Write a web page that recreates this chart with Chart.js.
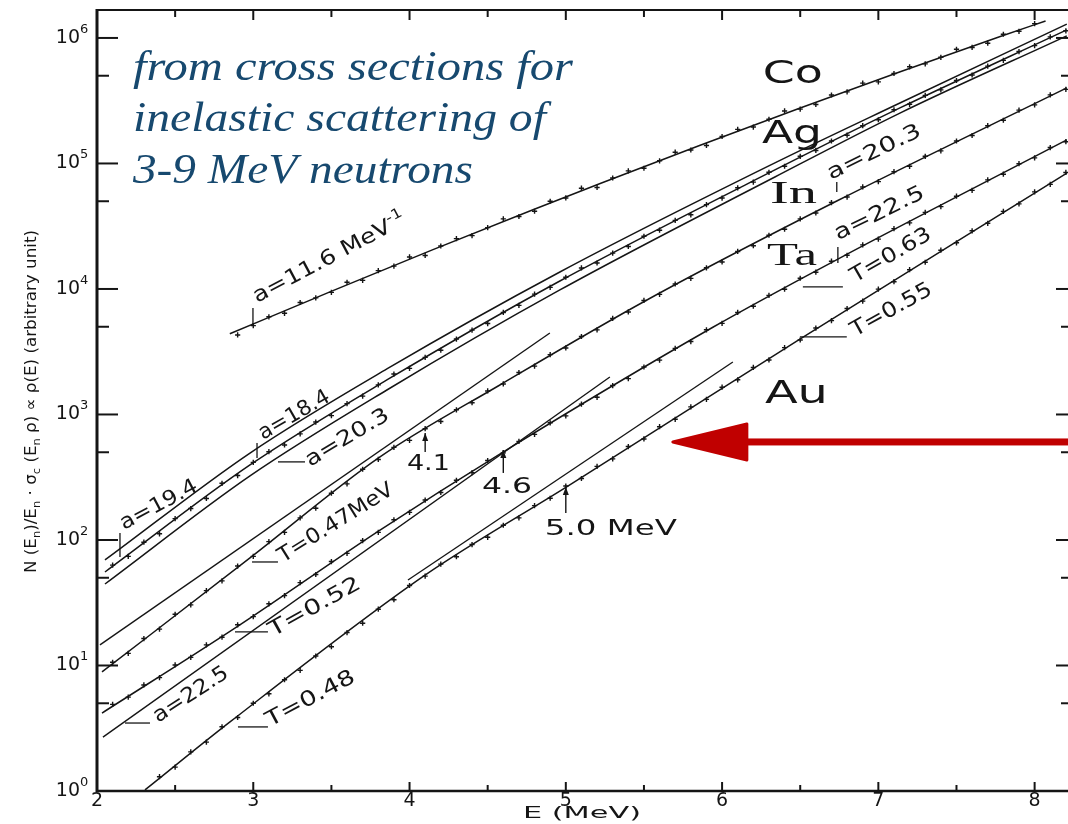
<!DOCTYPE html>
<html>
<head>
<meta charset="utf-8">
<script src="https://cdn.jsdelivr.net/npm/chart.js@4.4.1/dist/chart.umd.min.js"></script>
<style>
  html, body { margin: 0; padding: 0; background: #fff; overflow: hidden; }
  #wrap { position: relative; width: 1068px; height: 824px; overflow: hidden; }
  canvas { display: block; }
</style>
</head>
<body>
<div id="wrap"><canvas id="c" width="1080" height="824"></canvas></div>
<script>
// Axis ranges and ticks
const X_MIN = 2, X_MAX = 8.22;
const Y_MIN = 1, Y_MAX = 1.67e6;
const xMajor = [2, 3, 4, 5, 6, 7, 8];
const xMinor = [2.5, 3.5, 4.5, 5.5, 6.5, 7.5];
const yMajor = [1, 10, 100, 1e3, 1e4, 1e5, 1e6];
const yMinor = [5, 50, 500, 5e3, 5e4, 5e5];

// ---- Co (a = 11.6 MeV^-1) ----
const coE = [2.85, 3.51, 4.15, 4.79, 5.22, 5.86, 6.50, 7.14, 7.78, 8.07];
const coN = [4400, 9700, 20600, 42800, 69300, 139600, 277000, 538000, 1026000, 1365000];
const coDotE = [2.9, 3.0, 3.1, 3.2, 3.3, 3.4, 3.5, 3.6, 3.7, 3.8, 3.9, 4.0, 4.1, 4.2, 4.3, 4.4, 4.5, 4.6,
  4.7, 4.8, 4.9, 5.0, 5.1, 5.2, 5.3, 5.4, 5.5, 5.6, 5.7, 5.8, 5.9, 6.0, 6.1, 6.2, 6.3, 6.4, 6.5, 6.6,
  6.7, 6.8, 6.9, 7.0, 7.1, 7.2, 7.3, 7.4, 7.5, 7.6, 7.7, 7.8, 7.9, 8.0];
const coDotN = [4300, 5100, 6000, 6400, 7800, 8500, 9400, 11300, 11700, 14000, 15200, 18000, 18500, 22000,
  25200, 26600, 30800, 36200, 37800, 41600, 50000, 53100, 63500, 64400, 76600, 87300, 91600, 105000,
  123000, 128000, 139000, 164000, 187000, 195000, 225000, 262000, 271000, 295000, 351000, 372000,
  437000, 447000, 521000, 589000, 621000, 701000, 813000, 840000, 908000, 1070000, 1130000, 1300000];

// ---- Ag band (a = 19.4, 18.4, 20.3) ----
const agE = [2.051, 2.979, 3.855, 4.962, 6.338, 7.138, 8.206];
const agUpper = [69.3, 493, 2305, 13650, 101000, 303000, 1290000];
const agMid = [55.6, 396, 1884, 11580, 88800, 277000, 1160000];
const agLower = [44.6, 324, 1567, 9820, 78000, 252000, 1040000];
const agDotE = [2.1, 2.2, 2.3, 2.4, 2.5, 2.6, 2.7, 2.8, 2.9, 3.0, 3.1, 3.2, 3.3, 3.4, 3.5, 3.6, 3.7, 3.8,
  3.9, 4.0, 4.1, 4.2, 4.3, 4.4, 4.5, 4.6, 4.7, 4.8, 4.9, 5.0, 5.1, 5.2, 5.3, 5.4, 5.5, 5.6, 5.7, 5.8,
  5.9, 6.0, 6.1, 6.2, 6.3, 6.4, 6.5, 6.6, 6.7, 6.8, 6.9, 7.0, 7.1, 7.2, 7.3, 7.4, 7.5, 7.6, 7.7, 7.8,
  7.9, 8.0, 8.1, 8.2];
const agDotN = [63, 74, 96, 112, 148, 178, 214, 283, 326, 415, 505, 571, 700, 870, 980, 1220, 1400, 1720,
  2100, 2330, 2850, 3250, 3990, 4700, 5300, 6500, 7400, 9100, 10300, 12400, 14700, 16100, 19300, 21800,
  26300, 29400, 35200, 39000, 47000, 53000, 64000, 71000, 85000, 95000, 114000, 127000, 151000, 168000,
  200000, 223000, 268000, 296000, 349000, 386000, 458000, 507000, 596000, 663000, 779000, 868000,
  1020000, 1140000];

// ---- In (a = 20.3) and its constant-temperature line (T = 0.47 MeV) ----
const inE = [2.032, 2.979, 3.811, 4.578, 5.519, 6.734, 8.206];
const inN = [8.88, 71.9, 459, 1718, 8170, 50200, 400000];
const inTE = [2.019, 4.898];
const inTN = [14.6, 4460];
const inDotE = agDotE;
const inDotN = [10.6, 12.5, 16.4, 19.5, 25.6, 30.4, 39.5, 47.2, 62, 74, 97, 115, 150, 179, 236, 280, 366,
  438, 547, 622, 770, 880, 1090, 1240, 1540, 1750, 2160, 2430, 3000, 3390, 4180, 4720, 5820, 6560, 8100,
  9050, 10950, 12150, 14750, 16400, 19900, 22100, 26800, 29900, 36200, 40300, 48800, 54000, 65000,
  71600, 86000, 94900, 114000, 126000, 151000, 167000, 200000, 221000, 266000, 293000, 352000, 389000];

// ---- Ta (a = 22.5) and its constant-temperature line ----
const taE = [2.032, 2.902, 3.811, 4.598, 5.941, 6.741, 8.206];
const taN = [4.18, 20.6, 120, 502, 4955, 17300, 154000];
const taTE = [2.038, 5.282];
const taTN = [2.69, 1990];
const taDotE = agDotE;
const taDotN = [4.9, 5.6, 7.0, 8.0, 10.1, 11.6, 14.6, 16.8, 21.1, 24.5, 31.0, 36.0, 45.7, 53.1, 67.3, 78.2,
  99, 115, 145, 166, 208, 239, 299, 344, 430, 494, 611, 694, 858, 975, 1210, 1370, 1700, 1930, 2390, 2710,
  3360, 3810, 4730, 5320, 6500, 7280, 8890, 9960, 12170, 13600, 16640, 18540, 22440, 24960, 30270, 33590,
  40740, 45320, 54830, 60990, 73960, 82080, 99530, 110700, 133900, 149000];

// ---- Au and its constant-temperature line ----
const auE = [2.307, 2.851, 4.099, 5.013, 6.498, 8.206];
const auN = [1.02, 3.55, 52.5, 269, 3981, 83900];
const auTE = [3.990, 6.069];
const auTN = [48.0, 2620];
const auDotE = [2.4, 2.5, 2.6, 2.7, 2.8, 2.9, 3.0, 3.1, 3.2, 3.3, 3.4, 3.5, 3.6, 3.7, 3.8, 3.9, 4.0, 4.1,
  4.2, 4.3, 4.4, 4.5, 4.6, 4.7, 4.8, 4.9, 5.0, 5.1, 5.2, 5.3, 5.4, 5.5, 5.6, 5.7, 5.8, 5.9, 6.0, 6.1, 6.2,
  6.3, 6.4, 6.5, 6.6, 6.7, 6.8, 6.9, 7.0, 7.1, 7.2, 7.3, 7.4, 7.5, 7.6, 7.7, 7.8, 7.9, 8.0, 8.1, 8.2];
const auDotN = [1.3, 1.55, 2.05, 2.45, 3.25, 3.85, 5.0, 5.95, 7.7, 9.15, 11.9, 14.1, 18.3, 21.7, 28.1, 33.4,
  43.4, 51.5, 64.2, 73.6, 92, 105, 131, 150, 188, 215, 269, 309, 386, 443, 555, 638, 799, 915, 1150, 1320,
  1650, 1890, 2370, 2720, 3410, 3920, 4880, 5590, 6980, 8000, 9970, 11430, 14240, 16330, 20360, 23330,
  29080, 33350, 41550, 47660, 59370, 68080, 84800];

const ink = '#151515';
const SANS = "'DejaVu Sans', 'Liberation Sans', sans-serif";
const SERIF = "'Liberation Serif', 'DejaVu Serif', serif";

// Slanted parameter labels: text, anchor (E, N), angle, width
const slantLabels = [
  { t: [['a=11.6 MeV'], ['-1', 'sup']], e: 3.024, n: 7730, ang: 28, w: 170 },
  { t: [['a=19.4']], e: 2.173, n: 120, ang: 28, w: 85 },
  { t: [['a=18.4']], e: 3.062, n: 627, ang: 30, w: 79 },
  { t: [['a=20.3']], e: 3.363, n: 382, ang: 31, w: 94 },
  { t: [['T=0.47MeV']], e: 3.190, n: 65.6, ang: 32, w: 132 },
  { t: [['T=0.52']], e: 3.126, n: 16.9, ang: 29, w: 102 },
  { t: [['a=22.5']], e: 2.390, n: 3.48, ang: 33, w: 86 },
  { t: [['T=0.48']], e: 3.107, n: 3.24, ang: 28, w: 98 },
  { t: [['a=20.3']], e: 6.696, n: 73900, ang: 26, w: 102 },
  { t: [['a=22.5']], e: 6.741, n: 24500, ang: 26, w: 98 },
  { t: [['T=0.63']], e: 6.850, n: 11170, ang: 30, w: 90 },
  { t: [['T=0.55']], e: 6.850, n: 4150, ang: 29, w: 90 }
];

// Leader strokes from labels to curves: [E1, N1, E2, N2]
const leaders = [
  [2.998, 7060, 2.998, 5160],
  [2.147, 113.7, 2.147, 73.2],
  [3.024, 593, 3.024, 450],
  [3.158, 419, 3.331, 419],
  [2.992, 66.8, 3.158, 66.8],
  [2.883, 18.5, 3.094, 18.5],
  [2.179, 3.48, 2.339, 3.48],
  [2.902, 3.24, 3.094, 3.24],
  [6.734, 71300, 6.734, 59300],
  [6.741, 21600, 6.741, 16100],
  [6.517, 10380, 6.773, 10380],
  [6.498, 4150, 6.798, 4150]
];

// Energy markers: E, N at tail, N at head
const markers = [
  { e: 4.1, from: 503, to: 712 },
  { e: 4.6, from: 342, to: 521 },
  { e: 5.0, from: 164, to: 264 }
];

// Upright labels: text, anchor (E, N), size, width, family
const uprightLabels = [
  { t: '4.1', e: 3.983, n: 361, size: 22, w: 43, f: SANS },
  { t: '4.6', e: 4.463, n: 237, size: 22, w: 50, f: SANS },
  { t: '5.0 MeV', e: 4.866, n: 109.6, size: 22, w: 132, f: SANS },
  { t: 'Co', e: 6.261, n: 438000, size: 32, w: 60, f: SANS },
  { t: 'Ag', e: 6.255, n: 145600, size: 32, w: 60, f: SANS },
  { t: 'In', e: 6.306, n: 48400, size: 32, w: 47, f: SERIF },
  { t: 'Ta', e: 6.287, n: 15530, size: 32, w: 50, f: SERIF },
  { t: 'Au', e: 6.274, n: 1236, size: 32, w: 63, f: SANS }
];

const noteLines = ['from cross sections for', 'inelastic scattering of', '3-9 MeV neutrons'];
const noteWidths = [440, 413, 340];
const noteAnchor = { e: 2.23, n: 463000 };

const pointerTip = { e: 5.685, n: 604 };

function pts(es, ns) { return es.map((e, i) => ({ x: e, y: ns[i] })); }
function curve(label, es, ns) {
  return {
    label, data: pts(es, ns), showLine: true, borderColor: ink, borderWidth: 1.5,
    pointRadius: 0, cubicInterpolationMode: 'monotone', fill: false
  };
}
function straight(label, es, ns) {
  return { label, data: pts(es, ns), showLine: true, borderColor: ink, borderWidth: 1.4, pointRadius: 0, fill: false };
}
function dots(label, es, ns) {
  return {
    label, data: pts(es, ns), showLine: false, pointStyle: 'cross', pointRadius: 2.6,
    borderColor: ink, borderWidth: 1.4
  };
}

const datasets = [
  curve('Co', coE, coN), dots('Co data', coDotE, coDotN),
  curve('Ag a=19.4', agE, agUpper), curve('Ag a=18.4', agE, agMid), curve('Ag a=20.3', agE, agLower),
  dots('Ag data', agDotE, agDotN),
  curve('In', inE, inN), dots('In data', inDotE, inDotN), straight('In T', inTE, inTN),
  curve('Ta', taE, taN), dots('Ta data', taDotE, taDotN), straight('Ta T', taTE, taTN),
  curve('Au', auE, auN), dots('Au data', auDotE, auDotN), straight('Au T', auTE, auTN)
];

// Draws a run of text pieces (plain / sub / sup), rotated, squeezed to a given width
function rich(ctx, segs, x, y, angDeg, size, width, family, style) {
  ctx.save();
  ctx.translate(x, y);
  ctx.rotate(-angDeg * Math.PI / 180);
  const pre = style ? style + ' ' : '';
  const fontFor = k => pre + (k ? Math.round(size * 0.68) : size) + 'px ' + family;
  let total = 0;
  for (const [t, k] of segs) { ctx.font = fontFor(k); total += ctx.measureText(t).width; }
  ctx.scale(width ? width / total : 1, 1);
  let cx = 0;
  for (const [t, k] of segs) {
    ctx.font = fontFor(k);
    const dy = k === 'sub' ? size * 0.28 : k === 'sup' ? -size * 0.42 : 0;
    ctx.fillText(t, cx, dy);
    cx += ctx.measureText(t).width;
  }
  ctx.restore();
}

function seg(ctx, x1, y1, x2, y2) { ctx.beginPath(); ctx.moveTo(x1, y1); ctx.lineTo(x2, y2); ctx.stroke(); }

const paper = {
  id: 'paper',
  afterDatasetsDraw(chart) {
    const { ctx, chartArea: a, scales: { x, y } } = chart;
    ctx.save();
    ctx.strokeStyle = ink; ctx.fillStyle = ink; ctx.lineCap = 'butt';
    ctx.textBaseline = 'alphabetic'; ctx.textAlign = 'left';

    // frame
    ctx.lineWidth = 3; seg(ctx, a.left, a.top - 1, a.left, a.bottom + 1);
    ctx.lineWidth = 2.5; seg(ctx, a.left, a.bottom, a.right, a.bottom);
    ctx.lineWidth = 2; seg(ctx, a.left, a.top, a.right, a.top);
    seg(ctx, a.right, a.top, a.right, a.bottom);

    // y ticks (inward on both sides)
    ctx.lineWidth = 2;
    for (const v of yMajor) { const p = y.getPixelForValue(v); seg(ctx, a.left, p, a.left + 21, p); seg(ctx, a.right - 13, p, a.right, p); }
    for (const v of yMinor) { const p = y.getPixelForValue(v); seg(ctx, a.left, p, a.left + 12, p); seg(ctx, a.right - 8, p, a.right, p); }
    // x ticks (inward top and bottom)
    for (const v of xMajor) { const p = x.getPixelForValue(v); seg(ctx, p, a.bottom, p, a.bottom - 9); seg(ctx, p, a.top, p, a.top + 10); }
    for (const v of xMinor) { const p = x.getPixelForValue(v); seg(ctx, p, a.bottom, p, a.bottom - 6); seg(ctx, p, a.top, p, a.top + 7); }

    // y tick labels 10^n
    yMajor.forEach((v, i) => {
      const p = y.getPixelForValue(v);
      ctx.font = '19px ' + SANS; ctx.textAlign = 'right';
      ctx.fillText('10', a.left - 17, p + 5);
      ctx.font = '13px ' + SANS; ctx.textAlign = 'left';
      ctx.fillText(String(i), a.left - 17, p - 5);
    });
    // x tick labels
    ctx.font = '19px ' + SANS; ctx.textAlign = 'center';
    for (const v of xMajor) ctx.fillText(String(v), x.getPixelForValue(v), a.bottom + 15);
    ctx.textAlign = 'left';

    // axis titles
    rich(ctx, [['E (MeV)']], x.getPixelForValue(4.726), a.bottom + 27, 0, 16, 118, SANS);
    rich(ctx, [['N (E'], ['n', 'sub'], [')/E'], ['n', 'sub'], [' · σ'], ['c', 'sub'], [' (E'], ['n', 'sub'],
               [' ρ) ∝ ρ(E) (arbitrary unit)']],
         a.left - 61, y.getPixelForValue(1) - 218, 90, 16, 343, SANS);

    // slanted labels and leaders
    for (const L of slantLabels) rich(ctx, L.t, x.getPixelForValue(L.e), y.getPixelForValue(L.n), L.ang, 21, L.w, SANS);
    ctx.lineWidth = 1.3;
    for (const [e1, n1, e2, n2] of leaders) seg(ctx, x.getPixelForValue(e1), y.getPixelForValue(n1), x.getPixelForValue(e2), y.getPixelForValue(n2));

    // energy markers with upward heads
    for (const m of markers) {
      const px = x.getPixelForValue(m.e), p1 = y.getPixelForValue(m.from), p2 = y.getPixelForValue(m.to);
      ctx.lineWidth = 1.4; seg(ctx, px, p1, px, p2);
      ctx.beginPath(); ctx.moveTo(px, p2); ctx.lineTo(px - 3, p2 + 8); ctx.lineTo(px + 3, p2 + 8); ctx.closePath(); ctx.fill();
    }

    for (const L of uprightLabels) rich(ctx, [[L.t]], x.getPixelForValue(L.e), y.getPixelForValue(L.n), 0, L.size, L.w, L.f);

    // note text
    ctx.fillStyle = '#17496f';
    const nx = x.getPixelForValue(noteAnchor.e), ny = y.getPixelForValue(noteAnchor.n);
    noteLines.forEach((s, i) => rich(ctx, [[s]], nx, ny + i * 51.5, 0, 43, noteWidths[i], SERIF, 'italic'));

    // red pointer arrow
    const tx = x.getPixelForValue(pointerTip.e), ty = y.getPixelForValue(pointerTip.n);
    ctx.fillStyle = '#c00000'; ctx.strokeStyle = '#c00000'; ctx.lineJoin = 'round'; ctx.lineWidth = 3;
    ctx.fillRect(tx + 60, ty - 3.5, chart.width - tx, 7);
    ctx.beginPath(); ctx.moveTo(tx, ty); ctx.lineTo(tx + 74, ty - 18); ctx.lineTo(tx + 74, ty + 18); ctx.closePath();
    ctx.fill(); ctx.stroke();
    ctx.restore();
  }
};

new Chart(document.getElementById('c').getContext('2d'), {
  type: 'scatter',
  data: { datasets },
  options: {
    responsive: false, animation: false, devicePixelRatio: 1,
    layout: { padding: { left: 97, top: 10, right: 11, bottom: 33 } },
    plugins: { legend: { display: false }, tooltip: { enabled: false } },
    scales: {
      x: { type: 'linear', min: X_MIN, max: X_MAX, display: false },
      y: { type: 'logarithmic', min: Y_MIN, max: Y_MAX, display: false }
    }
  },
  plugins: [paper]
});
</script>
</body>
</html>
